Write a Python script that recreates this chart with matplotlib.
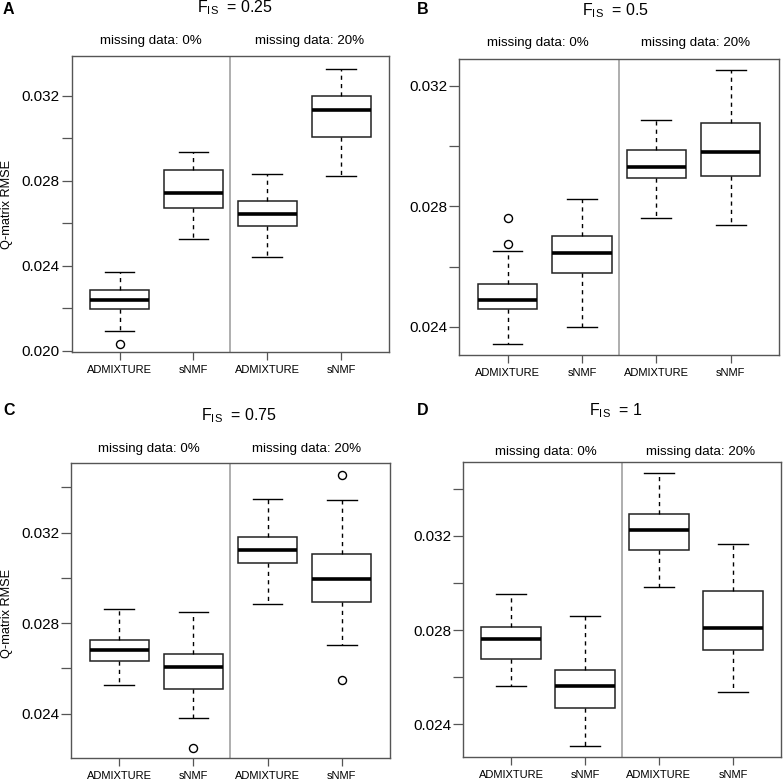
import matplotlib
matplotlib.use("Agg")
import matplotlib.pyplot as plt

plt.rcParams['font.family'] = ['Liberation Sans', 'DejaVu Sans']
plt.rcParams['mathtext.fontset'] = 'custom'
plt.rcParams['mathtext.rm'] = 'Liberation Sans'

# ---------------- data ----------------
groups = ["ADMIXTURE", "sNMF", "ADMIXTURE", "sNMF"]
missing_labels = ["missing data: 0%", "missing data: 20%"]
fis_values = ["0.25", "0.5", "0.75", "1"]
panel_letters = ["A", "B", "C", "D"]

A_whislo = [0.02092, 0.02528, 0.02442, 0.02824]
A_q1 = [0.02196, 0.02672, 0.02587, 0.03004]
A_med = [0.02241, 0.02741, 0.02644, 0.03133]
A_q3 = [0.02288, 0.02852, 0.02703, 0.03200]
A_whishi = [0.02371, 0.02934, 0.02830, 0.03325]
A_fliers = [[0.02033], [], [], []]

B_whislo = [0.02343, 0.02400, 0.02760, 0.02737]
B_q1 = [0.02461, 0.02580, 0.02893, 0.02900]
B_med = [0.02488, 0.02647, 0.02930, 0.02980]
B_q3 = [0.02541, 0.02702, 0.02986, 0.03077]
B_whishi = [0.02652, 0.02823, 0.03085, 0.03254]
B_fliers = [[0.02676, 0.02760], [], [], []]

C_whislo = [0.02524, 0.02381, 0.02886, 0.02704]
C_q1 = [0.02632, 0.02508, 0.03064, 0.02894]
C_med = [0.02680, 0.02607, 0.03123, 0.02996]
C_q3 = [0.02726, 0.02664, 0.03182, 0.03103]
C_whishi = [0.02862, 0.02847, 0.03349, 0.03342]
C_fliers = [[], [0.02246], [], [0.02548, 0.03455]]

D_whislo = [0.02562, 0.02308, 0.02984, 0.02535]
D_q1 = [0.02675, 0.02467, 0.03140, 0.02716]
D_med = [0.02760, 0.02560, 0.03226, 0.02810]
D_q3 = [0.02811, 0.02630, 0.03292, 0.02966]
D_whishi = [0.02955, 0.02858, 0.03469, 0.03166]
D_fliers = [[], [], [], []]

major_ticks = [0.020, 0.024, 0.028, 0.032]
minor_ticks = [0.022, 0.026, 0.030, 0.034]

panels = [
    (A_whislo, A_q1, A_med, A_q3, A_whishi, A_fliers),
    (B_whislo, B_q1, B_med, B_q3, B_whishi, B_fliers),
    (C_whislo, C_q1, C_med, C_q3, C_whishi, C_fliers),
    (D_whislo, D_q1, D_med, D_q3, D_whishi, D_fliers),
]

# ---------------- layout (pixels, top-left origin) ----------------
W = H = 783
fig = plt.figure(figsize=(W / 100, H / 100), dpi=100)

def fx(x):
    return x / W

def fy(y):
    return 1 - y / H

axes_px = [  # left, right, top, bottom
    (71.7, 389.0, 56.0, 352.0),
    (459.3, 779.0, 58.7, 355.3),
    (71.0, 390.0, 463.3, 758.3),
    (463.0, 781.0, 461.7, 756.7),
]
ylims = [(0.01995, 0.03386), (0.02306, 0.03290), (0.02202, 0.03506), (0.02261, 0.03516)]
title_pos = [(235, 12.7), (616, 15.0), (238.7, 420.7), (615.7, 415.0)]
letter_pos = [(3, 14), (417, 14), (3, 415), (417, 415)]
miss_pos = [((150.8, 44), (310, 44)), ((537.5, 46), (696, 46)),
            ((148.5, 451.7), (307, 451.7)), ((546, 455.3), (701, 455.3))]
ylabel_pos = [(7.5, 204), None, (7.5, 613), None]

frame_col = '#555555'

for i, (wlo, q1, med, q3, whi, fl) in enumerate(panels):
    l, r, t, b = axes_px[i]
    ax = fig.add_axes([fx(l), fy(b), fx(r) - fx(l), (b - t) / H])
    stats = []
    for k in range(len(groups)):
        stats.append(dict(whislo=wlo[k], q1=q1[k], med=med[k], q3=q3[k],
                          whishi=whi[k], fliers=fl[k], label=groups[k]))
    ax.bxp(stats, positions=[1, 2, 3, 4], widths=0.8, capwidths=0.4,
           patch_artist=True, showfliers=True,
           boxprops=dict(facecolor='white', edgecolor='#222222', linewidth=1.1),
           medianprops=dict(color='black', linewidth=2.6, solid_capstyle='butt'),
           whiskerprops=dict(color='black', linewidth=1.0, linestyle=(0, (3, 3))),
           capprops=dict(color='black', linewidth=1.0),
           flierprops=dict(marker='o', markerfacecolor='none', markeredgecolor='black',
                           markersize=5.8, markeredgewidth=1.0))
    ax.axvline(2.5, color='#999999', linewidth=1.1, zorder=0)
    ax.set_xlim(0.35, 4.65)
    ax.set_ylim(*ylims[i])
    lo, hi = ylims[i]
    ax.set_yticks([v for v in major_ticks if lo <= v <= hi])
    ax.set_yticklabels([f"{v:.3f}" for v in major_ticks if lo <= v <= hi])
    ax.set_yticks([v for v in minor_ticks if lo <= v <= hi], minor=True)
    ax.tick_params(axis='y', which='both', length=7.5, width=0.9, color=frame_col,
                   labelsize=11, pad=1)
    ax.tick_params(axis='x', length=5.5, width=0.9, color=frame_col, labelsize=8, pad=4)
    ax.set_xticks([1, 2, 3, 4])
    ax.set_xticklabels(groups)
    for s in ax.spines.values():
        s.set_color(frame_col)
        s.set_linewidth(1.0)

    tx, ty = title_pos[i]
    fig.text(fx(tx), fy(ty), r'$\mathregular{F_{IS}}$  = ' + fis_values[i],
             ha='center', va='baseline', fontsize=11.5)
    lx, ly = letter_pos[i]
    fig.text(fx(lx), fy(ly), panel_letters[i], ha='left', va='baseline',
             fontsize=11.5, fontweight='bold')
    for j, (mx, my) in enumerate(miss_pos[i]):
        fig.text(fx(mx), fy(my), missing_labels[j], ha='center', va='baseline',
                 fontsize=9.6)
    if ylabel_pos[i] is not None:
        yx, yy = ylabel_pos[i]
        fig.text(fx(yx), fy(yy), "Q-matrix RMSE", rotation=90, ha='center',
                 va='center', fontsize=9.2)

fig.savefig("out.png", dpi=100)
